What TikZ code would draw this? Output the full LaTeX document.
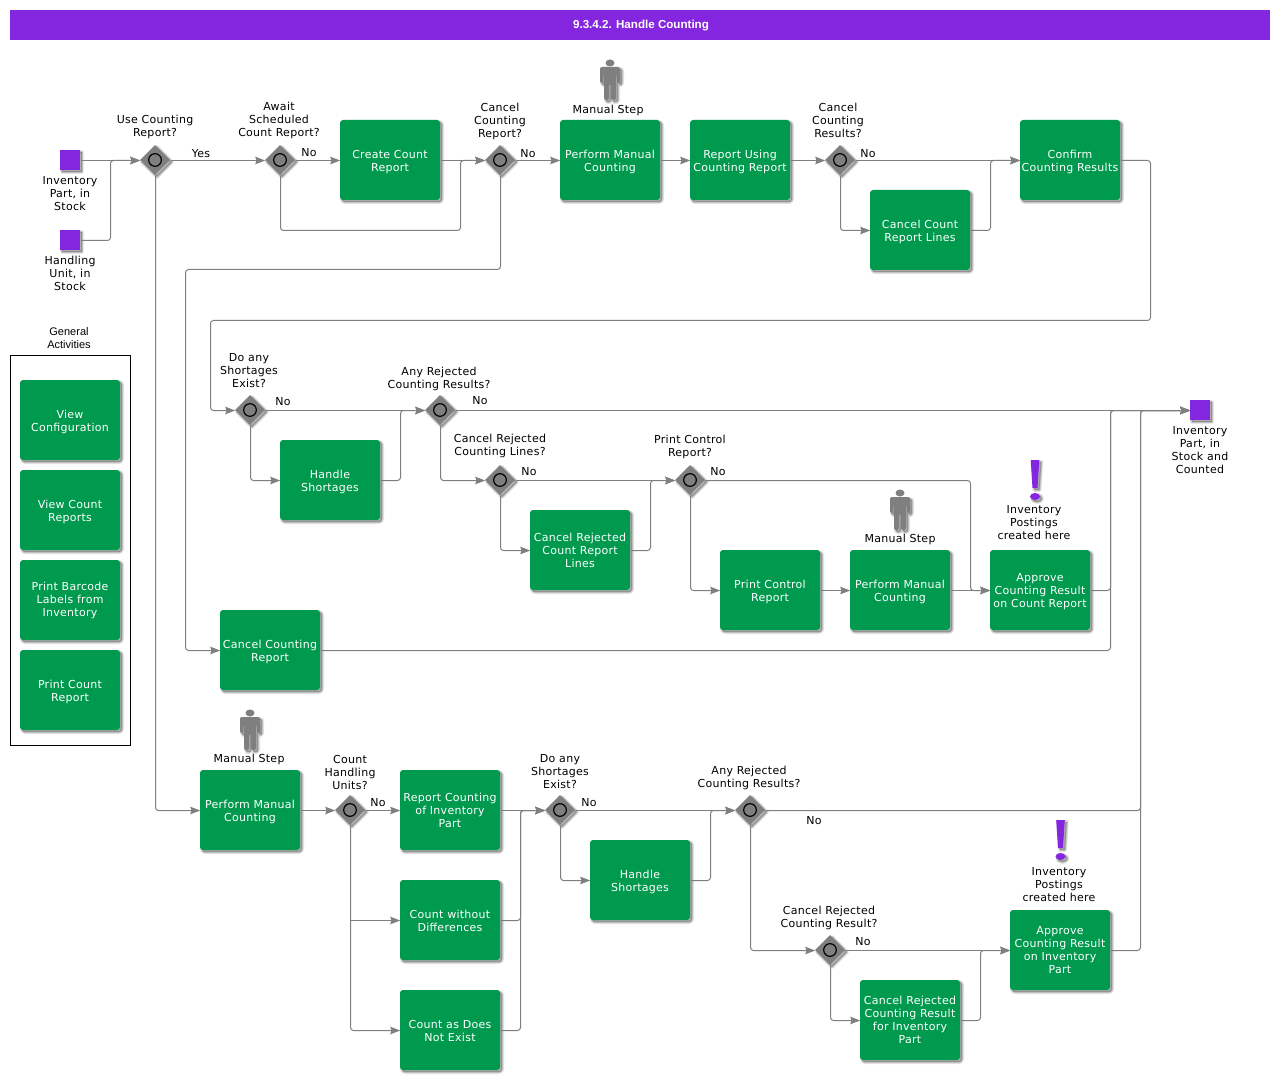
\documentclass[tikz,border=0pt]{standalone}
\usepackage{fontspec}
\setmainfont[LetterSpace=2.5]{DejaVu Sans}
\newfontfamily\arialf{Liberation Sans}
\usetikzlibrary{arrows.meta,shapes.geometric}
\definecolor{tgreen}{HTML}{009A4E}
\definecolor{tpurple}{HTML}{8426E0}
\definecolor{tgray}{HTML}{7F7F7F}
\newcommand{\dn}{\rule{0pt}{9pt}}
\newcommand{\dnn}{\rule{0pt}{7.5pt}}
\tikzset{
  shlayer/.style={preaction={fill=black,draw=black,fill opacity=.09,draw opacity=.09,line width=#1,line join=round,transform canvas={xshift=1.5pt,yshift=-1.5pt}}},
  softshadow/.style={shlayer=3pt,shlayer=2pt,shlayer=1pt},
  taskbox/.style={draw=none,fill=tgreen,rounded corners=2.25pt,minimum width=75pt,minimum height=60pt,inner sep=0pt,
    text=white,align=center,font=\fontsize{8.25}{9.75}\selectfont,softshadow},
  gate/.style={diamond,fill=tgray,draw=none,minimum width=22.5pt,minimum height=22.5pt,inner sep=0pt,softshadow},
  ring/.style={circle,draw=black,fill=tgray,line width=0.9pt,minimum size=9.5pt,inner sep=0pt},
  evt/.style={rectangle,fill=tpurple,minimum size=15pt,inner sep=0pt,softshadow},
  lab/.style={align=center,inner sep=0pt,text=black,font=\fontsize{8.25}{9.75}\selectfont,yshift=-0.75pt},
  conn/.style={draw=tgray,line width=0.75pt,rounded corners=2.25pt,-{Stealth[length=7.5pt,width=5.6pt,inset=1pt]}},
}
\newcommand{\gw}[3]{\node[gate] (#1) at (#2,#3) {};\node[ring] (#1r) at (#2,#3) {};}
\newcommand{\personicon}[2]{\begin{scope}[shift={(#1,#2)}]
 \fill[tgray,softshadow,rounded corners=1.5pt] (-10,-13) -- (10,-13) -- (10,3) -- (7,3) -- (7,-6) -- (6,-6) -- (6,20) -- (1,20) -- (1,4) -- (-1,4) -- (-1,20) -- (-6,20) -- (-6,-6) -- (-7,-6) -- (-7,3) -- (-10,3) -- cycle;
 \fill[tgray] (0,-17) ellipse [x radius=4.5,y radius=3.5];
\end{scope}}
\newcommand{\bang}[2]{\begin{scope}[shift={(#1,#2)}]
 \fill[tpurple,softshadow] (-4.3,-20) -- (4.3,-20) -- (2.5,8) -- (-2.5,8) -- cycle;
 \fill[tpurple,softshadow] (0,16.5) ellipse [x radius=5,y radius=3.5];
\end{scope}}
\begin{document}
\begin{tikzpicture}[x=0.75pt,y=-0.75pt]
\useasboundingbox (0,0) rectangle (1280,1080);
\fill[white] (0,0) rectangle (1280,1080);
% title
\node[fill=tpurple,minimum width=945pt,minimum height=22.5pt,inner sep=0pt] (title) at (640,25) {};
\node[text=white,inner sep=0pt,font=\arialf\bfseries\fontsize{8.7}{11}\selectfont] (titletext) at (641,26) {9.3.4.2. Handle Counting};
% general activities
\node[draw=black,line width=0.75pt,minimum width=90pt,minimum height=292.5pt,inner sep=0pt] (gabox) at (70.5,550.5) {};
\node[lab,font=\arialf\fontsize{8.25}{9.75}\selectfont] (galab) at (69,337.5) {General\\Activities};
\node[taskbox] (ga1) at (70,420) {\dn View\\Configuration};
\node[taskbox] (ga2) at (70,510) {\dn View Count\\Reports};
\node[taskbox] (ga3) at (70,600) {Print Barcode\\Labels from\\Inventory};
\node[taskbox] (ga4) at (70,690) {\dn Print Count\\Report};
% events
\node[evt] (s1) at (70,160) {};
\node[evt] (s2) at (70,240) {};
\node[evt] (e1) at (1200,410) {};
% tasks
\node[taskbox] (create) at (390,160) {\dn Create Count\\Report};
\node[taskbox] (perf1) at (610,160) {\dn Perform Manual\\Counting};
\node[taskbox] (repuse) at (740,160) {\dn Report Using\\Counting Report};
\node[taskbox] (confirm) at (1070,160) {\dn Confirm\\Counting Results};
\node[taskbox] (crlines) at (920,230) {\dn Cancel Count\\Report Lines};
\node[taskbox] (short1) at (330,480) {\dn Handle\\Shortages};
\node[taskbox] (crej) at (580,550) {Cancel Rejected\\Count Report\\Lines};
\node[taskbox] (printc) at (770,590) {\dn Print Control\\Report};
\node[taskbox] (perf2) at (900,590) {\dn Perform Manual\\Counting};
\node[taskbox] (appr1) at (1040,590) {\dn Approve\\Counting Result\\on Count Report};
\node[taskbox] (ccr) at (270,650) {\dn Cancel Counting\\Report};
\node[taskbox] (perf3) at (250,810) {\dn Perform Manual\\Counting};
\node[taskbox] (repinv) at (450,810) {Report Counting\\of Inventory\\Part};
\node[taskbox] (cwd) at (450,920) {\dnn Count without\\Differences};
\node[taskbox] (cnot) at (450,1030) {\dnn Count as Does\\Not Exist};
\node[taskbox] (short2) at (640,880) {\dn Handle\\Shortages};
\node[taskbox] (appr2) at (1060,950) {Approve\\Counting Result\\on Inventory\\Part};
\node[taskbox] (crres) at (910,1020) {Cancel Rejected\\Counting Result\\for Inventory\\Part};
% bend coordinates
\coordinate (b1) at (110,240);
\coordinate (b2) at (460,230);
\coordinate (b3) at (185,269);
\coordinate (b4) at (990,230);
\coordinate (b5) at (1150,320);
\coordinate (b5a) at (210,320);
\coordinate (b6) at (400,480);
\coordinate (b7) at (650,550);
\coordinate (b8) at (970,480);
\coordinate (b9) at (1110,590);
\coordinate (b10) at (1110,650);
\coordinate (b11) at (1140,810);
\coordinate (b12) at (1140,950);
\coordinate (b13) at (520,920);
\coordinate (b14) at (520,1030);
\coordinate (b16) at (710,880);
\coordinate (b17) at (980,1020);
\coordinate (b18) at (350,920);
% gateways
\gw{g1}{155}{160}\gw{g2}{280}{160}\gw{g3}{500}{160}\gw{g4}{840}{160}
\gw{g5}{250}{410}\gw{g6}{440}{410}\gw{g7}{500}{480}\gw{g8}{690}{480}
\gw{g9}{350}{810}\gw{g10}{560}{810}\gw{g11}{750}{810}\gw{g12}{830}{950}
% connectors
\begin{scope}[transform canvas={xshift=0.375pt,yshift=-0.375pt}]
\draw[conn] (s1.east) -- (g1.west);
\draw[conn] (s2.east) -- (b1) |- (g1.west);
\draw[conn] (g1.east) -- (g2.west);
\draw[conn] (g2.east) -- (create.west);
\draw[conn] (g2.south) |- (b2) |- (g3.west);
\draw[conn] (create.east) -- (g3.west);
\draw[conn] (g3.east) -- (perf1.west);
\draw[conn] (g3.south) |- (b3) |- (ccr.west);
\draw[conn] (g1.south) |- (perf3.west);
\draw[conn] (perf1.east) -- (repuse.west);
\draw[conn] (repuse.east) -- (g4.west);
\draw[conn] (g4.east) -- (confirm.west);
\draw[conn] (g4.south) |- (crlines.west);
\draw[conn] (crlines.east) -- (b4) |- (confirm.west);
\draw[conn] (confirm.east) -| (b5) -- (b5a) |- (g5.west);
\draw[conn] (g5.east) -- (g6.west);
\draw[conn] (g5.south) |- (short1.west);
\draw[conn] (short1.east) -- (b6) |- (g6.west);
\draw[conn] (g6.east) -- (e1.west);
\draw[conn] (g6.south) |- (g7.west);
\draw[conn] (g7.east) -- (g8.west);
\draw[conn] (g7.south) |- (crej.west);
\draw[conn] (crej.east) -- (b7) |- (g8.west);
\draw[conn] (g8.east) -- (b8) |- (appr1.west);
\draw[conn] (g8.south) |- (printc.west);
\draw[conn] (printc.east) -- (perf2.west);
\draw[conn] (perf2.east) -- (appr1.west);
\draw[conn] (appr1.east) -- (b9) |- (e1.west);
\draw[conn] (ccr.east) -- (b10) |- (e1.west);
\draw[conn] (perf3.east) -- (g9.west);
\draw[conn] (g9.east) -- (repinv.west);
\draw[conn] (g9.south) |- (cnot.west);
\draw[conn] (b18) -- (cwd.west);
\draw[conn] (repinv.east) -- (g10.west);
\draw[conn] (cwd.east) -- (b13) |- (g10.west);
\draw[conn] (cnot.east) -- (b14) |- (g10.west);
\draw[conn] (g10.east) -- (g11.west);
\draw[conn] (g10.south) |- (short2.west);
\draw[conn] (short2.east) -- (b16) |- (g11.west);
\draw[conn] (g11.east) -- (b11) |- (e1.west);
\draw[conn] (g11.south) |- (g12.west);
\draw[conn] (g12.east) -- (appr2.west);
\draw[conn] (g12.south) |- (crres.west);
\draw[conn] (crres.east) -- (b17) |- (appr2.west);
\draw[conn] (appr2.east) -- (b12) |- (e1.west);
\end{scope}
% icons
\personicon{610}{80}
\personicon{900}{510}
\personicon{250}{730}
\bang{1035}{480}
\bang{1060.5}{840}
% labels
\node[lab] (l1) at (70,193) {Inventory\\Part, in\\Stock};
\node[lab] (l2) at (70,272) {Handling\\Unit, in\\Stock};
\node[lab] (l3) at (155,125.5) {Use Counting\\Report?};
\node[lab] (l4) at (201,153) {Yes};
\node[lab] (l5) at (279,119) {Await\\Scheduled\\Count Report?};
\node[lab] (l6) at (309,152) {No};
\node[lab] (l7) at (500,120) {Cancel\\Counting\\Report?};
\node[lab] (l8) at (528,153) {No};
\node[lab] (l9) at (608,109) {Manual Step};
\node[lab] (l10) at (838,119) {Cancel\\Counting\\Results?};
\node[lab] (l11) at (868,153) {No};
\node[lab] (l12) at (249,370) {Do any\\Shortages\\Exist?};
\node[lab] (l13) at (283,401) {No};
\node[lab] (l14) at (439,378) {Any Rejected\\Counting Results?};
\node[lab] (l15) at (480,400) {No};
\node[lab] (l16) at (500,445) {Cancel Rejected\\Counting Lines?};
\node[lab] (l17) at (529,471) {No};
\node[lab] (l18) at (690,445.5) {Print Control\\Report?};
\node[lab] (l19) at (718,471) {No};
\node[lab] (l20) at (900,538) {Manual Step};
\node[lab] (l21) at (1034,522) {Inventory\\Postings\\created here};
\node[lab] (l22) at (1200,449) {Inventory\\Part, in\\Stock and\\Counted};
\node[lab] (l23) at (249,758) {Manual Step};
\node[lab] (l24) at (350,771) {Count\\Handling\\Units?};
\node[lab] (l25) at (378,802) {No};
\node[lab] (l26) at (560,771) {Do any\\Shortages\\Exist?};
\node[lab] (l27) at (589,802) {No};
\node[lab] (l28) at (749,777) {Any Rejected\\Counting Results?};
\node[lab] (l29) at (814,820) {No};
\node[lab] (l30) at (829,917) {Cancel Rejected\\Counting Result?};
\node[lab] (l31) at (863,941) {No};
\node[lab] (l32) at (1059,884) {Inventory\\Postings\\created here};
\end{tikzpicture}
\end{document}
